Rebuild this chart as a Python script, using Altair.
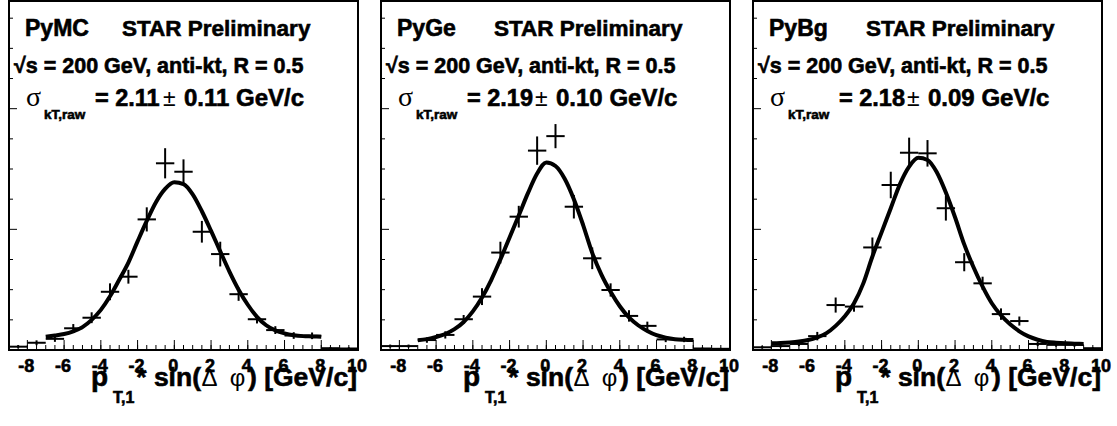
import altair as alt
import pandas as pd

# ---------------- data ----------------
panel_names = ["PyMC", "PyGe", "PyBg"]
sigma_vals = ["2.11", "2.19", "2.18"]
sigma_errs = ["0.11", "0.10", "0.09"]

bin_centers = [-8.5, -7.5, -6.5, -5.5, -4.5, -3.5, -2.5, -1.5, -0.5, 0.5,
               1.5, 2.5, 3.5, 4.5, 5.5, 6.5, 7.5, 8.5, 9.5]
bin_half_width = 0.5

counts = [
    [0.11, 0.24, 0.37, 0.72, 1.07, 1.93, 2.43, 4.33, 6.19, 5.91,
     3.92, 3.18, 1.85, 1.02, 0.66, 0.48, 0.47, 0.06, 0.05],
    [0.13, 0.13, 0.33, 0.50, 1.02, 1.77, 3.23, 4.42, 6.61, 7.09,
     4.75, 3.04, 1.99, 1.13, 0.80, 0.35, 0.35, 0.05, 0.04],
    [0.09, 0.13, 0.20, 0.46, 1.49, 1.44, 3.40, 5.47, 6.54, 6.52,
     4.70, 2.91, 2.21, 1.19, 0.96, 0.20, 0.17, 0.17, 0.06],
]
errors = [
    [0.05, 0.08, 0.10, 0.14, 0.18, 0.28, 0.23, 0.40, 0.50, 0.41,
     0.36, 0.41, 0.22, 0.14, 0.13, 0.11, 0.11, 0.04, 0.04],
    [0.05, 0.05, 0.09, 0.12, 0.14, 0.28, 0.36, 0.36, 0.47, 0.40,
     0.39, 0.36, 0.22, 0.19, 0.14, 0.09, 0.09, 0.03, 0.03],
    [0.04, 0.05, 0.07, 0.14, 0.25, 0.17, 0.33, 0.44, 0.50, 0.44,
     0.41, 0.30, 0.22, 0.19, 0.15, 0.07, 0.06, 0.06, 0.03],
]

fit_x = [
    [-7, -6.5, -6, -5.5, -5, -4.5, -4, -3.5, -3, -2.5, -2, -1.5, -1, -0.5, 0,
     0.5, 1, 1.5, 2, 2.5, 3, 3.5, 4, 4.5, 5, 5.5, 6, 6.5, 7, 7.5, 8],
    [-7, -6.5, -6, -5.5, -5, -4.5, -4, -3.5, -3, -2.5, -2, -1.5, -1, -0.5, 0,
     0.5, 1, 1.5, 2, 2.5, 3, 3.5, 4, 4.5, 5, 5.5, 6, 6.5, 7, 7.5, 8],
    [-8, -7.5, -7, -6.5, -6, -5.5, -5, -4.5, -4, -3.5, -3, -2.5, -2, -1.5, -1,
     -0.5, 0, 0.5, 1, 1.5, 2, 2.5, 3, 3.5, 4, 4.5, 5, 5.5, 6, 6.5, 7, 7.5, 8,
     8.5, 9],
]
fit_y = [
    [0.44, 0.48, 0.53, 0.62, 0.76, 1.00, 1.33, 1.78, 2.33, 2.90, 3.60, 4.28,
     4.90, 5.34, 5.56, 5.50, 5.16, 4.60, 3.95, 3.27, 2.60, 2.00, 1.50, 1.10,
     0.82, 0.65, 0.55, 0.49, 0.46, 0.45, 0.44],
    [0.32, 0.36, 0.43, 0.53, 0.69, 0.93, 1.28, 1.74, 2.32, 3.00, 3.73, 4.46,
     5.20, 5.85, 6.22, 6.10, 5.68, 5.00, 4.15, 3.22, 2.50, 1.93, 1.45, 1.08,
     0.82, 0.63, 0.49, 0.41, 0.36, 0.34, 0.33],
    [0.22, 0.23, 0.25, 0.28, 0.33, 0.42, 0.56, 0.80, 1.12, 1.55, 2.20, 3.10,
     3.90, 4.70, 5.50, 6.08, 6.37, 6.30, 5.90, 5.22, 4.40, 3.50, 2.75, 2.10,
     1.55, 1.15, 0.85, 0.62, 0.45, 0.34, 0.27, 0.24, 0.22, 0.21, 0.20],
]

x_label_values = [-8, -6, -4, -2, 0, 2, 4, 6, 8, 10]
x_label_texts = ["-8", "-6", "-4", "-2", "0", "2", "4", "6", "8", "10"]
x_tick_minor = [-9 + 0.5 * i for i in range(39)]
x_tick_major = [-8, -6, -4, -2, 0, 2, 4, 6, 8, 10]
y_tick_minor = [1, 2, 3, 5, 6, 7, 9, 10, 11]
y_tick_major = [4, 8]

# ---------------- layout ----------------
W, H = 349, 349
FONT = "Liberation Sans"
HEAVY = 0.6  # extra outline to mimic the heavy ROOT bold glyphs

xs = alt.Scale(domain=[-9, 10], nice=False, zero=False)
ys = alt.Scale(domain=[0, 11.57], nice=False, zero=False)


def X(f):
    return alt.X(f, scale=xs, axis=None)


def Y(f):
    return alt.Y(f, scale=ys, axis=None)


def txt(s, x, y, size, weight="bold", font=FONT, align="left"):
    extra = {}
    if weight == "bold":
        extra = dict(stroke="black", strokeWidth=HEAVY)
    return alt.Chart(pd.DataFrame({"s": [s]})).mark_text(
        align=align, baseline="alphabetic", font=font, fontSize=size,
        fontWeight=weight, color="black", **extra
    ).encode(text="s:N", x=alt.value(x), y=alt.value(y))


panels = []
for i in range(3):
    df = pd.DataFrame({"x": bin_centers, "y": counts[i], "err": errors[i]})
    df["lo"] = df["x"] - bin_half_width
    df["hi"] = df["x"] + bin_half_width
    df["ylo"] = df["y"] - df["err"]
    df["yhi"] = df["y"] + df["err"]
    cdf = pd.DataFrame({"x": fit_x[i], "y": fit_y[i]})

    hbar = alt.Chart(df).mark_rule(color="black", strokeWidth=2).encode(
        x=X("lo:Q"), x2="hi:Q", y=Y("y:Q"))
    vbar = alt.Chart(df).mark_rule(color="black", strokeWidth=2).encode(
        x=X("x:Q"), y=Y("ylo:Q"), y2="yhi:Q")
    curve = alt.Chart(cdf).mark_line(color="black", strokeWidth=4,
                                     interpolate="monotone").encode(
        x=X("x:Q"), y=Y("y:Q"))

    xt_min = alt.Chart(pd.DataFrame({"t": x_tick_minor})).mark_rule(
        color="black", strokeWidth=1).encode(
        x=X("t:Q"), y=alt.value(H), y2=alt.value(H - 5))
    xt_maj = alt.Chart(pd.DataFrame({"t": x_tick_major})).mark_rule(
        color="black", strokeWidth=1).encode(
        x=X("t:Q"), y=alt.value(H), y2=alt.value(H - 10))
    yt_min = alt.Chart(pd.DataFrame({"t": y_tick_minor})).mark_rule(
        color="black", strokeWidth=1).encode(
        y=Y("t:Q"), x=alt.value(0), x2=alt.value(4))
    yt_maj = alt.Chart(pd.DataFrame({"t": y_tick_major})).mark_rule(
        color="black", strokeWidth=1).encode(
        y=Y("t:Q"), x=alt.value(0), x2=alt.value(8))
    xlabels = alt.Chart(pd.DataFrame({"v": x_label_values,
                                      "lab": x_label_texts})).mark_text(
        align="center", baseline="alphabetic", font=FONT, fontSize=18,
        fontWeight="bold", color="black", stroke="black", strokeWidth=HEAVY,
        dx=-1).encode(
        x=X("v:Q"), y=alt.value(H + 22), text="lab:N")

    texts = [
        txt(panel_names[i], 16, 35, 23),
        txt("STAR Preliminary", 113, 35, 22.5),
        txt("\u221as = 200 GeV, anti-kt, R = 0.5", 5, 72, 21.5),
        txt("\u03c3", 17, 105, 28, weight="normal", font="Liberation Serif"),
        txt("kT,raw", 35, 118, 13.5),
        txt("= " + sigma_vals[i], 86, 105, 23.5),
        txt("\u00b1", 154, 105, 23, weight="normal"),
        txt(sigma_errs[i] + " GeV/c", 175, 105, 24),
        txt("p", 82, 385, 28),
        txt("T,1", 104, 402, 16),
        txt("* sin(", 192, 385, 26.5, align="right"),
        txt("\u0394", 200.5, 385, 24, weight="normal", align="center"),
        txt("\u03c6", 228.5, 385, 24, weight="normal", align="center"),
        txt(") [GeV/c]", 239, 385, 26.5),
    ]

    panel = alt.layer(xt_min, xt_maj, yt_min, yt_maj, hbar, vbar, curve,
                      xlabels, *texts).properties(width=W, height=H)
    panels.append(panel)

chart = alt.hconcat(*panels, spacing=23, bounds="flush").properties(
    padding={"left": 7, "top": 0, "right": 0, "bottom": 0},
    background="white",
).configure_view(stroke="black", strokeWidth=2)

chart.save("out.html", embed_options={"renderer": "svg", "actions": False})
